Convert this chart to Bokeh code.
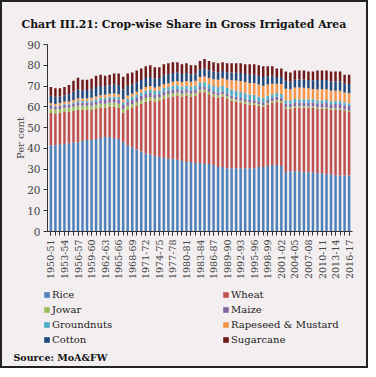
from math import pi
from bokeh.plotting import figure
from bokeh.layouts import column
from bokeh.models import (ColumnDataSource, Range1d, FixedTicker, Legend, LegendItem, Title, Label)
from bokeh.embed import file_html
from bokeh.resources import INLINE

years = ["1950-51","1951-52","1952-53","1953-54","1954-55","1955-56","1956-57","1957-58","1958-59","1959-60",
         "1960-61","1961-62","1962-63","1963-64","1964-65","1965-66","1966-67","1967-68","1968-69","1969-70",
         "1970-71","1971-72","1972-73","1973-74","1974-75","1975-76","1976-77","1977-78","1978-79","1979-80",
         "1980-81","1981-82","1982-83","1983-84","1984-85","1985-86","1986-87","1987-88","1988-89","1989-90",
         "1990-91","1991-92","1992-93","1993-94","1994-95","1995-96","1996-97","1997-98","1998-99","1999-00",
         "2000-01","2001-02","2002-03","2003-04","2004-05","2005-06","2006-07","2007-08","2008-09","2009-10",
         "2010-11","2011-12","2012-13","2013-14","2014-15","2015-16","2016-17"]

rice = [41.5,41.5,42,42,42.5,43,43,43.5,44,44,
        44.5,45,45.5,45.5,45,44.5,43,41.5,40.5,39.5,
        38.5,37.5,37,36.5,36,35.5,35,35,34.5,34,
        33.5,33.5,33,33,32.5,32.5,32,31,31,30.5,
        30.5,30.5,30.5,30.5,30.5,30.5,31,31,31.5,32,
        32,31.5,28.5,29,29,29,28.5,28.5,28.5,28,
        28,27.5,27.5,27,27,27,27]
wheat = [15.5,15,15,15.5,15,15,15.5,15,14.5,14.5,
         14.5,14.5,14,14.5,15,15,14,17,19,21,
         23,25,26,26,27,28.5,29.5,30,31,31,
         32,31.5,32.5,34,34.5,33.5,33,33.5,34,33.5,
         32.5,32,31.5,31,30.5,30.5,29.5,29,29.5,30,
         30.5,30.5,30.5,30,30.5,30.5,31,31,31,31,
         31,31.5,31,31.5,31.5,31,30.5]
jowar = [2.2,2.2,2,2,2,2,2,2,2,2,
         2,2,2,2,2,2,2,2,1.8,1.8,
         1.8,1.8,1.7,1.6,1.5,1.5,1.5,1.5,1.4,1.3,
         1.3,1.3,1.2,1.2,1.2,1.2,1.1,1.1,1.1,1.1,
         1,1,1,1,1,0.9,0.9,0.9,0.9,0.8,
         0.8,0.8,0.8,0.8,0.8,0.8,0.8,0.7,0.7,0.7,
         0.7,0.7,0.7,0.7,0.7,0.6,0.6]
maize = [1.4,1.4,1.5,1.5,1.5,1.6,1.6,1.6,1.6,1.7,
         1.7,1.7,1.8,1.8,1.8,1.9,1.9,2,2,2,
         2,1.9,1.9,1.8,1.8,1.8,1.7,1.7,1.6,1.6,
         1.5,1.5,1.5,1.4,1.4,1.4,1.4,1.3,1.3,1.3,
         1.3,1.3,1.3,1.3,1.3,1.3,1.3,1.3,1.4,1.4,
         1.5,1.6,1.7,1.7,1.8,1.8,1.8,1.9,1.9,2,
         2,2.1,2.1,2.2,2.2,2.2,2.3]
groundnuts = [0.3,0.3,0.3,0.4,0.5,0.6,0.7,0.7,0.8,0.9,
              1,1,1.1,1.1,1.2,1.3,1.3,1.4,1.5,1.5,
              1.6,1.7,1.7,1.7,1.7,1.8,1.8,1.9,1.9,1.9,
              1.9,2,2,2.1,2.2,2.3,2.5,2.6,2.7,2.8,
              3,2.9,2.8,2.7,2.6,2.5,2.3,2.2,2,1.9,
              1.8,1.8,1.7,1.7,1.7,1.6,1.6,1.6,1.5,1.5,
              1.5,1.5,1.4,1.4,1.4,1.3,1.3]
rapeseed = [1,1,1,1,1.1,1.1,1.2,1.2,1.2,1.3,
            1.3,1.4,1.4,1.4,1.4,1.4,1.5,1.5,1.5,1.5,
            1.6,1.6,1.7,1.7,1.8,1.8,1.9,2,2,2.1,
            2.2,2.3,2.4,2.6,2.8,3,3.3,3.5,3.7,4,
            4.5,5,5.3,5.4,5.6,5.7,5.8,5.8,5.5,5,
            4.5,4.8,5.5,5.3,5.5,5.6,5.5,5.2,5,5.3,
            5.3,5.2,5.2,5,5,4.8,4.8]
cotton = [3.4,3.4,3.2,3.2,3.5,4.0,4.4,4.0,4.0,4.1,
          4.5,4.4,4.1,4.1,4.3,4.4,4.8,4.7,4.5,4.5,
          4.4,4.4,4.4,4.3,4.1,4.3,4.3,4.2,4.1,3.9,
          3.9,3.6,3.4,3.5,3.8,3.7,3.7,3.6,3.5,3.5,
          3.7,3.7,3.9,3.9,4.0,4.1,4.1,4.2,3.9,3.8,
          3.3,3.4,3.8,3.6,3.7,3.8,4.0,4.0,4.2,4.4,
          4.4,4.4,4.4,4.5,4.5,4.3,4.5]
sugarcane = [4.2,4.2,4.0,3.9,4.4,5.2,5.6,5.0,4.9,5.0,
             5.5,5.5,5.1,5.1,5.3,5.5,6.0,5.9,5.7,5.7,
             5.6,5.6,5.6,5.4,5.1,5.3,5.3,5.2,5.0,4.7,
             4.7,4.3,4.0,4.2,4.6,4.4,4.5,4.4,4.2,4.3,
             4.5,4.6,4.7,4.7,5.0,5.0,5.1,5.1,4.8,4.6,
             4.1,4.1,4.5,4.4,4.5,4.4,4.3,4.1,4.2,4.6,
             4.6,4.6,4.7,4.7,4.7,4.3,4.5]

names = ["Rice", "Wheat", "Jowar", "Maize", "Groundnuts", "Rapeseed & Mustard", "Cotton", "Sugarcane"]
keys = ["rice", "wheat", "jowar", "maize", "groundnuts", "rapeseed", "cotton", "sugarcane"]
colors = ["#4f81bd", "#c0504d", "#9bbb59", "#8064a2", "#4bacc6", "#f79646", "#1f497d", "#6e1a1a"]

idx = list(range(len(years)))
data = dict(x=idx, rice=rice, wheat=wheat, jowar=jowar, maize=maize,
            groundnuts=groundnuts, rapeseed=rapeseed, cotton=cotton, sugarcane=sugarcane)

BG = "#f3eff0"
SERIF = "DejaVu Serif"
W = 364
H1 = 282
H2 = 82

# ---------- main chart ----------
p = figure(width=W, height=H1, output_backend="svg", toolbar_location=None,
           x_range=Range1d(-0.75, 66.75), y_range=Range1d(0, 90),
           min_border_left=45, min_border_right=14, min_border_top=36, min_border_bottom=53,
           background_fill_color=BG, border_fill_color=BG, outline_line_color=None)
p.frame_align = False

p.title = Title(text="Chart III.21: Crop-wise Share in Gross Irrigated Area",
                align="left", offset=-26, standoff=27,
                text_font=SERIF, text_font_style="bold", text_font_size="10.9px",
                text_color="#111111")

p.vbar_stack(keys, x="x", width=0.55, color=colors, line_color=None,
             source=ColumnDataSource(data))

p.xgrid.visible = False
p.ygrid.visible = False

p.yaxis.ticker = FixedTicker(ticks=[0, 10, 20, 30, 40, 50, 60, 70, 80, 90])
p.yaxis.axis_label = "Per cent"
p.yaxis.axis_label_text_font = SERIF
p.yaxis.axis_label_text_font_style = "normal"
p.yaxis.axis_label_text_font_size = "10px"
p.yaxis.axis_label_standoff = -2
p.yaxis.major_label_text_font = SERIF
p.yaxis.major_label_text_font_size = "10.5px"
p.yaxis.major_tick_in = 0
p.yaxis.major_tick_out = 4
p.yaxis.minor_tick_line_color = None
p.yaxis.axis_line_color = "#333333"
p.yaxis.major_tick_line_color = "#333333"
p.yaxis.major_label_standoff = 3

p.xaxis.ticker = FixedTicker(ticks=idx[::3], minor_ticks=idx)
p.xaxis.major_label_overrides = {i: years[i] for i in idx[::3]}
p.xaxis.major_label_orientation = pi / 2
p.xaxis.major_label_text_font = SERIF
p.xaxis.major_label_text_font_size = "9.5px"
p.xaxis.major_tick_in = 0
p.xaxis.major_tick_out = 4
p.xaxis.minor_tick_in = 0
p.xaxis.minor_tick_out = 4
p.xaxis.axis_line_color = "#333333"
p.xaxis.major_tick_line_color = "#333333"
p.xaxis.minor_tick_line_color = "#333333"
p.xaxis.major_label_standoff = 4

# ---------- legend + source panel ----------
q = figure(width=W, height=H2, output_backend="svg", toolbar_location=None,
           x_range=Range1d(0, 1), y_range=Range1d(1000, 1001),
           x_axis_type=None, y_axis_type=None,
           min_border=0, min_border_left=0, min_border_right=0,
           min_border_top=0, min_border_bottom=0,
           background_fill_color=BG, border_fill_color=BG,
           outline_line_color=None)
q.frame_align = False
q.grid.visible = False
keys_r = q.vbar_stack(keys, x="x", width=0.55, color=colors, line_color=None,
                      source=ColumnDataSource(data))

def make_legend(ids, x, y):
    lg = Legend(items=[LegendItem(label=names[i], renderers=[keys_r[i]]) for i in ids],
                location=(x, y), orientation="vertical",
                border_line_color=None, background_fill_alpha=0,
                padding=0, margin=0, spacing=1, glyph_width=7, glyph_height=7,
                label_height=14, label_standoff=2,
                label_text_font=SERIF, label_text_font_size="10px",
                label_text_color="#222222")
    q.add_layout(lg, "center")

make_legend([0, 2, 4, 6], 41, 20)
make_legend([1, 3, 5, 7], 220, 20)

q.add_layout(Label(x=11, y=9, x_units="screen", y_units="screen",
                   text="Source: MoA&FW", text_font=SERIF, text_font_style="bold",
                   text_font_size="9.5px", text_baseline="middle", text_color="#111111"))

layout = column(p, q, spacing=0)
layout.styles = {"border": "2px solid #222", "background-color": BG}

open("out.html", "w").write(file_html(layout, INLINE))
